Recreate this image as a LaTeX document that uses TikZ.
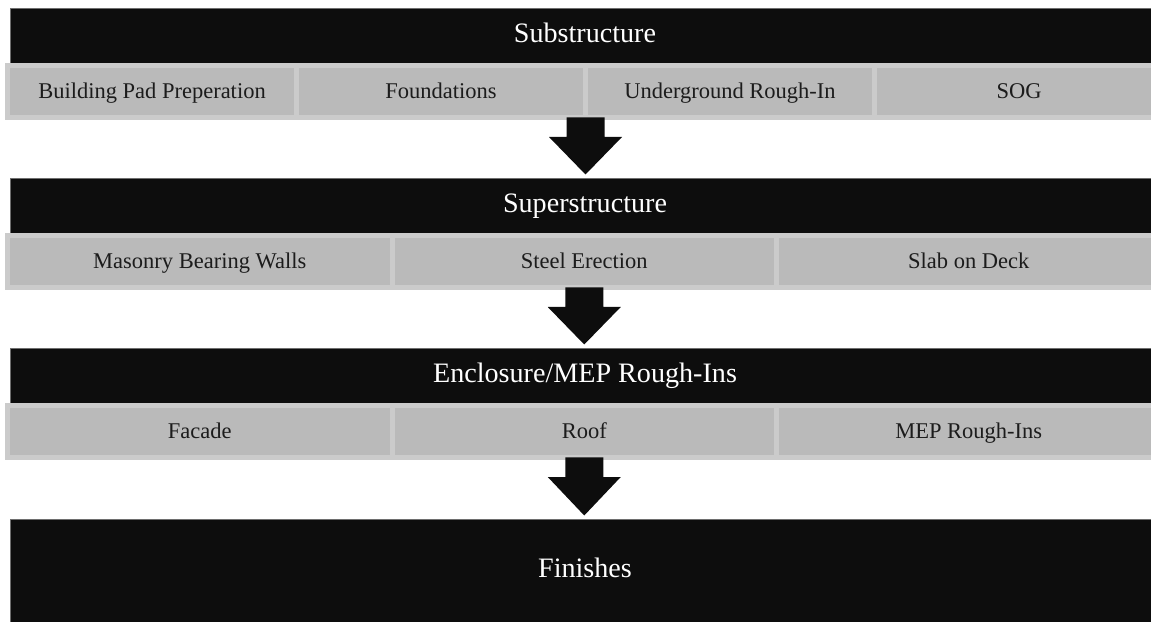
\documentclass[tikz,border=0pt]{standalone}
\usepackage{fontspec}
\setmainfont{Liberation Serif}
\usetikzlibrary{calc,positioning}
\definecolor{PhaseBar}{HTML}{0D0D0D}
\definecolor{PhaseEdge}{HTML}{6E6E6E}
\definecolor{TaskFill}{HTML}{BABABA}
\definecolor{TaskEdge}{HTML}{CBCBCB}
\definecolor{TaskInk}{HTML}{1C1C1C}
\newcommand{\pix}{0.025cm}
\tikzset{
  phase/.style={fill=PhaseBar, draw=PhaseEdge, line width=0.5pt, inner sep=0pt, outer sep=0pt,
                minimum width=1150*\pix, minimum height=#1*\pix, text=white,
                text height=1.1em, text depth=0.16em, font=\fontsize{20}{24}\selectfont},
  task/.style={fill=TaskFill, draw=TaskEdge, line width=5*\pix, inner sep=0pt, outer sep=0pt,
               minimum width=#1*\pix, minimum height=52*\pix, text=TaskInk,
               text height=1.1em, text depth=0.16em, font=\fontsize{16}{19}\selectfont},
}
% block arrow from a tail point down to the next phase bar
\newcommand{\phasearrow}[2]{%
  \fill[PhaseBar] ($(#1)+(-19,0)$) -- ($(#1)+(19,0)$) -- ($(#1)+(19,19.5)$) -- ($(#1)+(36.5,19.5)$)
    -- ($(#1|-#2.north)+(0,-3.5)$) -- ($(#1)+(-36.5,19.5)$) -- ($(#1)+(-19,19.5)$) -- cycle;}
\begin{document}
\begin{tikzpicture}[x=\pix, y=-\pix]
\useasboundingbox (0,0) rectangle (1151,622);
\clip (0,0) rectangle (1151,622);
% ---------- phase bars
\node[phase=55] (sub) at (585,35.5) {Substructure};
\node[phase=55] (sup) at (585,205.5) {Superstructure};
\node[phase=55] (enc) at (585,375.5) {Enclosure/MEP Rough-Ins};
\node[phase=104] (fin) at (585,571) {Finishes};
% ---------- task rows
\foreach \k/\t in {0/Building Pad Preperation, 1/Foundations, 2/Underground Rough-In, 3/SOG}
  \node[task=289] (s\k) at (152+289*\k,91.5) {\t};
\foreach \k/\t in {0/Masonry Bearing Walls, 1/Steel Erection, 2/Slab on Deck}
  \node[task=384.5] (m\k) at (199.75+384.5*\k,261.5) {\t};
\foreach \k/\t in {0/Facade, 1/Roof, 2/MEP Rough-Ins}
  \node[task=384.5] (e\k) at (199.75+384.5*\k,431.5) {\t};
% ---------- arrows between phases
\phasearrow{s1.south east}{sup}
\phasearrow{m1.south}{enc}
\phasearrow{e1.south}{fin}
\end{tikzpicture}
\end{document}
